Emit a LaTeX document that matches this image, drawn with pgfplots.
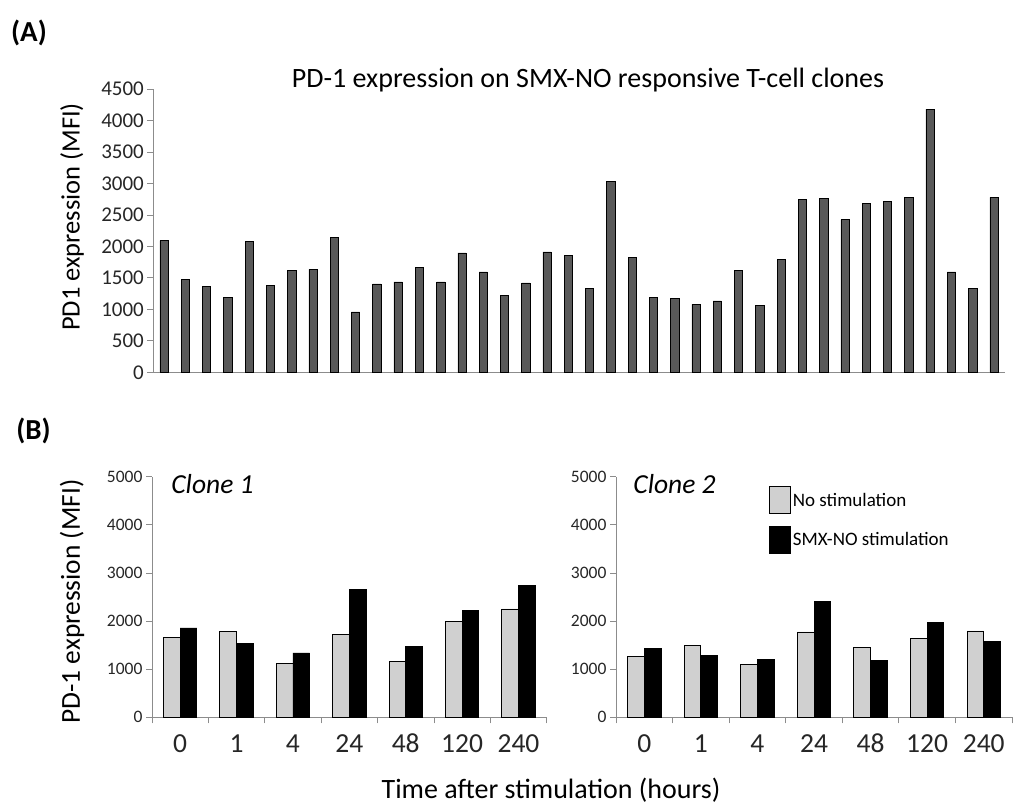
\documentclass[border=0pt]{standalone}
\usepackage{pgfplots}
\pgfplotsset{compat=1.18}
\usepackage{fontspec}
\setmainfont{Carlito}
\definecolor{bardark}{HTML}{595959}
\definecolor{barlight}{HTML}{D0D0D0}
\definecolor{axgray}{HTML}{8C8C8C}
\pgfplotsset{boxlegend/.style={legend image code/.code={\draw[##1] (0pt,-13.5pt) rectangle (21pt,13.5pt);}}}
\begin{document}
\begin{tikzpicture}
\path[use as bounding box] (0pt,0pt) rectangle (1016pt,808pt);
% Panel A
\begin{axis}[
  at={(153.4pt,435.7pt)}, anchor=south west, scale only axis,
  width=851.2pt, height=283.3pt,
  xmin=0.5, xmax=40.5, ymin=0, ymax=4500,
  axis lines*=left, axis line style={axgray, line width=0.8pt},
  xtick=\empty, ytick={0,500,...,4500},
  tick align=outside, major tick length=6pt, tick style={axgray, line width=0.8pt},
  ticklabel style={font=\fontsize{21}{21}\selectfont, text=black!85},
  /pgf/number format/assume math mode=true,
  /pgf/number format/1000 sep={},
  ybar, bar width=8.3pt, clip=false,
]
\addplot[fill=bardark, draw=black, line width=0.6pt] coordinates {
(1,2090) (2,1472) (3,1366) (4,1191) (5,2075) (6,1382) (7,1615) (8,1636) (9,2144) (10,958)
(11,1403) (12,1435) (13,1668) (14,1435) (15,1895) (16,1594) (17,1223) (18,1419) (19,1911) (20,1858)
(21,1329) (22,3028) (23,1826) (24,1191) (25,1170) (26,1080) (27,1133) (28,1615) (29,1064) (30,1789)
(31,2748) (32,2763) (33,2425) (34,2679) (35,2711) (36,2779) (37,4182) (38,1594) (39,1329) (40,2779)};
\end{axis}
% Panel B left
\begin{axis}[
  at={(152pt,90.7pt)}, anchor=south west, scale only axis,
  width=394.7pt, height=240.6pt,
  xmin=0.5, xmax=7.5, ymin=0, ymax=5000,
  axis lines*=left, axis line style={axgray, line width=0.8pt},
  xtick={1,...,7}, xticklabels={0,1,4,24,48,120,240},
  minor xtick={0.5,1.5,...,7.5}, major x tick style={draw=none},
  ytick={0,1000,...,5000},
  tick align=outside, major tick length=6pt, minor tick length=6pt,
  tick style={axgray, line width=0.8pt},
  yticklabel style={font=\fontsize{17.5}{17.5}\selectfont, text=black!85},
  xticklabel style={font=\fontsize{27.5}{27.5}\selectfont, text=black!85, text height=17pt, text depth=0pt, yshift=-9pt},
  /pgf/number format/assume math mode=true,
  /pgf/number format/1000 sep={},
  ybar=0pt, bar width=16.7pt, clip=false,
]
\addplot[fill=barlight, draw=black, line width=0.8pt] coordinates {
(1,1662) (2,1780) (3,1122) (4,1717) (5,1156) (6,2001) (7,2251)};
\addplot[fill=black, draw=black, line width=0.8pt] coordinates {
(1,1856) (2,1537) (3,1337) (4,2666) (5,1468) (6,2223) (7,2749)};
\end{axis}
% Panel B right
\begin{axis}[
  at={(616pt,90.7pt)}, anchor=south west, scale only axis,
  width=396pt, height=240.6pt,
  xmin=0.5, xmax=7.5, ymin=0, ymax=5000,
  axis lines*=left, axis line style={axgray, line width=0.8pt},
  xtick={1,...,7}, xticklabels={0,1,4,24,48,120,240},
  minor xtick={0.5,1.5,...,7.5}, major x tick style={draw=none},
  ytick={0,1000,...,5000},
  tick align=outside, major tick length=6pt, minor tick length=6pt,
  tick style={axgray, line width=0.8pt},
  yticklabel style={font=\fontsize{17.5}{17.5}\selectfont, text=black!85},
  xticklabel style={font=\fontsize{27.5}{27.5}\selectfont, text=black!85, text height=17pt, text depth=0pt, yshift=-9pt},
  /pgf/number format/assume math mode=true,
  /pgf/number format/1000 sep={},
  ybar=0pt, bar width=16.7pt, clip=false,
  legend style={at={(rel axis cs:0.386,0.961)}, anchor=north west, draw=none, fill=none,
    inner sep=0pt, font=\fontsize{19}{19}\selectfont, row sep=12pt,
    /tikz/every even column/.append style={column sep=2pt}},
  legend cell align=left,
]
\addplot[fill=barlight, draw=black, line width=0.8pt, boxlegend] coordinates {
(1,1267) (2,1489) (3,1101) (4,1773) (5,1447) (6,1648) (7,1794)};
\addplot[fill=black, draw=black, line width=0.8pt, boxlegend] coordinates {
(1,1440) (2,1288) (3,1198) (4,2410) (5,1184) (6,1974) (7,1572)};
\legend{No stimulation, SMX-NO stimulation}
\end{axis}
% Texts
\node[font=\bfseries\fontsize{29}{29}\selectfont] at (29pt,775pt) {(A)};
\node[font=\bfseries\fontsize{29}{29}\selectfont] at (33.5pt,377pt) {(B)};
\node[font=\fontsize{28}{28}\selectfont] at (588pt,728pt) {PD-1 expression on SMX-NO responsive T-cell clones};
\node[font=\fontsize{26.5}{26.5}\selectfont, rotate=90] at (72pt,591pt) {PD1 expression (MFI)};
\node[font=\fontsize{27.4}{27.4}\selectfont, rotate=90] at (72pt,206.5pt) {PD-1 expression (MFI)};
\node[font=\fontsize{28}{28}\selectfont] at (551pt,18pt) {Time after stimulation (hours)};
\node[font=\itshape\fontsize{27.5}{27.5}\selectfont] at (212.5pt,324pt) {Clone 1};
\node[font=\itshape\fontsize{27.5}{27.5}\selectfont] at (674.5pt,324pt) {Clone 2};
\end{tikzpicture}
\end{document}
